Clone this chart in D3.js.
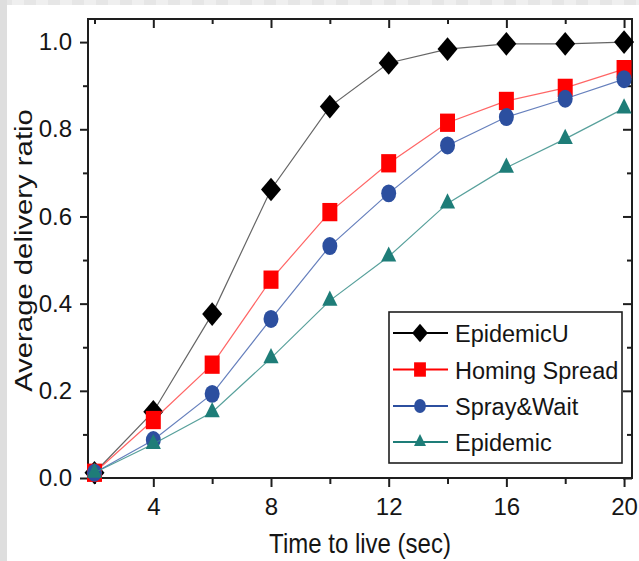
<!DOCTYPE html>
<html>
<head>
<meta charset="utf-8">
<script src="https://cdn.jsdelivr.net/npm/d3@7"></script>
<style>
  html, body { margin: 0; padding: 0; background: #fff; }
  svg { display: block; }
  text { font-family: "Liberation Sans", Arial, sans-serif; fill: #151515; }
</style>
</head>
<body>
<svg id="chart" width="639" height="561"></svg>
<script>
// ---- data ----
const ttl = [2, 4, 6, 8, 10, 12, 14, 16, 18, 20];
const epidemicU    = [0.012, 0.152, 0.376, 0.662, 0.852, 0.952, 0.984, 0.996, 0.996, 1.0];
const homingSpread = [0.012, 0.133, 0.260, 0.455, 0.610, 0.722, 0.815, 0.865, 0.895, 0.938];
const sprayWait    = [0.012, 0.087, 0.193, 0.365, 0.532, 0.653, 0.763, 0.828, 0.870, 0.915];
const epidemic     = [0.012, 0.078, 0.151, 0.275, 0.407, 0.508, 0.630, 0.712, 0.778, 0.848];
const seriesNames  = ["EpidemicU", "Homing Spread", "Spray&Wait", "Epidemic"];
const xMajorTicks  = [4, 8, 12, 16, 20];
const xMinorTicks  = [2, 6, 10, 14, 18];
const yMajorTicks  = [0.0, 0.2, 0.4, 0.6, 0.8, 1.0];
const yMinorTicks  = [0.1, 0.3, 0.5, 0.7, 0.9];
const xTitle = "Time to live (sec)";
const yTitle = "Average delivery ratio";

const svg = d3.select("#chart");
const W = 639, H = 561;

// slide-like background strips
svg.append("rect").attr("x", 0).attr("y", 0).attr("width", W).attr("height", 5).attr("fill", "#efefef");
svg.selectAll("rect.chk").data(d3.range(0, W, 24)).join("rect").attr("class", "chk")
  .attr("x", d => d).attr("y", 0).attr("width", 12).attr("height", 5).attr("fill", "#e6e6e6");
svg.append("rect").attr("x", 0).attr("y", 0).attr("width", 7).attr("height", H).attr("fill", "#dedede");

const L = 88, R = 632, T = 19, B = 478;
const x = d3.scaleLinear().domain([1.78, 20.27]).range([L, R]);
const y = d3.scaleLinear().domain([0, 1.053]).range([B, T]);

const axisColor = "#1e1e1e";
function styleAxis(g) {
  g.select(".domain").remove();
  g.selectAll("line").attr("stroke", axisColor).attr("stroke-width", 2);
  g.selectAll("text").style("font-size", "24px").attr("fill", "#151515");
}

// bottom axis
svg.append("g").attr("transform", `translate(0,${B})`)
  .call(d3.axisBottom(x).tickValues(xMajorTicks).tickSize(9).tickPadding(11).tickFormat(d3.format("d")))
  .call(styleAxis);
svg.append("g").attr("transform", `translate(0,${B})`)
  .call(d3.axisBottom(x).tickValues(xMinorTicks).tickSize(6).tickFormat(""))
  .call(styleAxis);
// top axis (inward)
svg.append("g").attr("transform", `translate(0,${T})`)
  .call(d3.axisTop(x).tickValues(xMajorTicks).tickSize(-9).tickFormat(""))
  .call(styleAxis);
svg.append("g").attr("transform", `translate(0,${T})`)
  .call(d3.axisTop(x).tickValues(xMinorTicks).tickSize(-5).tickFormat(""))
  .call(styleAxis);
// left axis
svg.append("g").attr("transform", `translate(${L},0)`)
  .call(d3.axisLeft(y).tickValues(yMajorTicks).tickSize(8).tickPadding(8).tickFormat(d3.format(".1f")))
  .call(styleAxis);
svg.append("g").attr("transform", `translate(${L},0)`)
  .call(d3.axisLeft(y).tickValues(yMinorTicks).tickSize(5).tickFormat(""))
  .call(styleAxis);
// right axis (inward)
svg.append("g").attr("transform", `translate(${R},0)`)
  .call(d3.axisRight(y).tickValues(yMajorTicks).tickSize(-9).tickFormat(""))
  .call(styleAxis);
svg.append("g").attr("transform", `translate(${R},0)`)
  .call(d3.axisRight(y).tickValues(yMinorTicks).tickSize(-5).tickFormat(""))
  .call(styleAxis);

// frame
svg.append("rect").attr("x", L).attr("y", T).attr("width", R - L).attr("height", B - T)
  .attr("fill", "none").attr("stroke", axisColor).attr("stroke-width", 2);

// marker types
const diamondType = { draw(ctx, size) { const r = Math.sqrt(size) / 2; ctx.moveTo(0, -r); ctx.lineTo(r, 0); ctx.lineTo(0, r); ctx.lineTo(-r, 0); ctx.closePath(); } };
const series = [
  { name: seriesNames[0], values: epidemicU,    color: "#000000", line: "#4a4a4a", symbol: diamondType,         size: 400, sy: 1.18 },
  { name: seriesNames[1], values: homingSpread, color: "#ff0000", line: "#ff4a4a", symbol: d3.symbolSquare,     size: 225, sy: 1.22 },
  { name: seriesNames[2], values: sprayWait,    color: "#2c4f9f", line: "#4a68b0", symbol: d3.symbolCircle,     size: Math.PI * 56, sy: 1.2 },
  { name: seriesNames[3], values: epidemic,     color: "#1e7d78", line: "#3a8f8a", symbol: d3.symbolTriangle,   size: 100, sy: 1.15 }
];

const lineGen = d3.line().x((d, i) => x(ttl[i])).y(d => y(d));

series.forEach(s => {
  svg.append("path").datum(s.values).attr("d", lineGen)
    .attr("fill", "none").attr("stroke", s.line).attr("stroke-width", 1.2).attr("stroke-opacity", 0.85);
  const sym = d3.symbol().type(s.symbol).size(s.size);
  svg.append("g").selectAll("path").data(s.values).join("path")
    .attr("d", sym)
    .attr("transform", (d, i) => `translate(${x(ttl[i])},${y(d)}) scale(1,${s.sy})`)
    .attr("fill", s.color);
});

// legend
const lg = svg.append("g");
lg.append("rect").attr("x", 389).attr("y", 312).attr("width", 233).attr("height", 151)
  .attr("fill", "#fff").attr("stroke", axisColor).attr("stroke-width", 1.6);
const rowY = [333, 369.5, 406, 442];
series.forEach((s, i) => {
  const yy = rowY[i];
  lg.append("line").attr("x1", 393).attr("x2", 448).attr("y1", yy).attr("y2", yy)
    .attr("stroke", s.color).attr("stroke-width", 2);
  const sym = d3.symbol().type(s.symbol).size(s.size * 0.62);
  lg.append("path").attr("d", sym).attr("transform", `translate(420,${yy}) scale(1,${s.sy})`).attr("fill", s.color);
  lg.append("text").attr("x", 455).attr("y", yy + 9).style("font-size", "23.5px").text(s.name);
});

// axis titles
svg.append("text").attr("transform", `translate(${(L + R) / 2},553) scale(1,1.15)`)
  .attr("text-anchor", "middle").style("font-size", "24px").text(xTitle);
svg.append("text").attr("transform", `translate(32,${(T + B) / 2 + 2}) rotate(-90) scale(1.22,1)`)
  .attr("text-anchor", "middle").style("font-size", "24px").text(yTitle);
</script>
</body>
</html>
